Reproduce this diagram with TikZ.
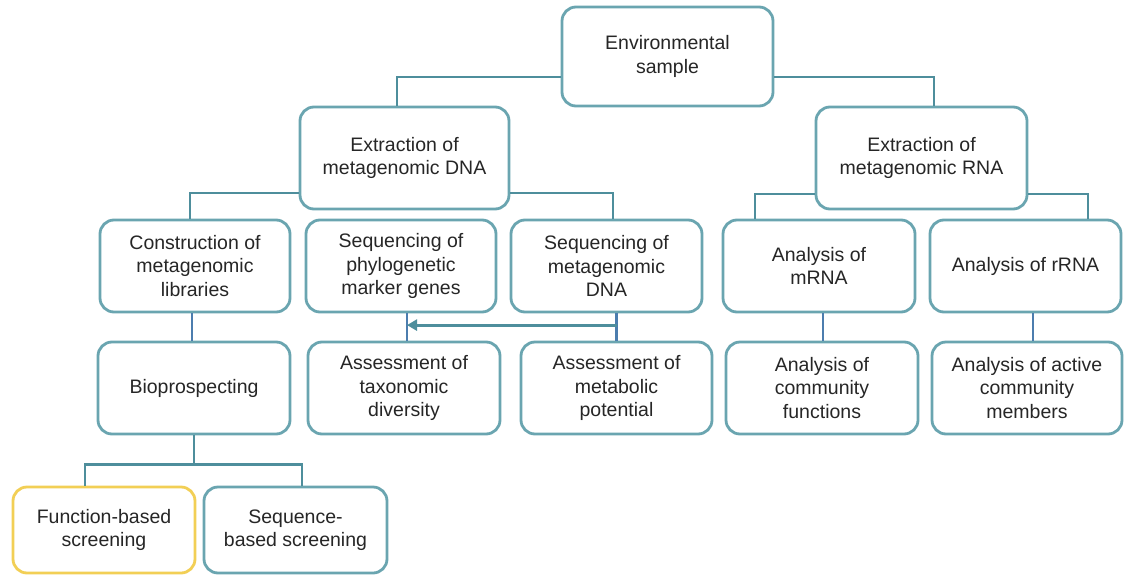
\documentclass[tikz,border=0pt]{standalone}
\usepackage{fontspec}
\setmainfont{Liberation Sans}
\usetikzlibrary{arrows.meta,calc}
\definecolor{boxc}{HTML}{6AA5B0}
\definecolor{yelc}{HTML}{F2CF55}
\definecolor{connc}{HTML}{4E8E9C}
\definecolor{vconnc}{HTML}{4C7DAE}
\definecolor{txtc}{HTML}{262626}
\begin{document}
\begin{tikzpicture}[x=1pt,y=1pt,
  box/.style={draw=boxc, line width=2.8pt, rounded corners=14pt, fill=white,
    align=center, text=txtc, inner sep=2pt,
    font=\fontsize{19.5pt}{23.5pt}\selectfont},
  conn/.style={draw=connc, line width=2.8pt},
  vconn/.style={draw=vconnc, line width=2.5pt},
  arr/.style={draw=connc, line width=2.8pt, -{Triangle[length=10pt,width=11pt]}}]
\useasboundingbox[fill=white] (0,0) rectangle (1125,-576);
% row 0
\node[box, minimum width=211pt, minimum height=99pt] (env) at (667.5,-56.5) {Environmental\\sample};
% row 1
\node[box, minimum width=209pt, minimum height=102pt] (dna) at (404.5,-158) {Extraction of\\metagenomic DNA};
\node[box, minimum width=211pt, minimum height=102pt] (rna) at (921.5,-158) {Extraction of\\metagenomic RNA};
% row 2
\node[box, minimum width=190pt, minimum height=92pt] (cons) at (195,-266) {Construction of\\metagenomic\\libraries};
\node[box, minimum width=190pt, minimum height=92pt] (phylo) at (401,-266) {Sequencing of\\phylogenetic\\marker genes};
\node[box, minimum width=191pt, minimum height=92pt] (seqdna) at (606.5,-266) {Sequencing of\\metagenomic\\DNA};
\node[box, minimum width=192pt, minimum height=92pt] (mrna) at (819,-266) {Analysis of\\mRNA};
\node[box, minimum width=191pt, minimum height=92pt] (rrna) at (1025.5,-266) {Analysis of rRNA};
% row 3
\node[box, minimum width=192pt, minimum height=92pt] (bio) at (194,-388) {Bioprospecting};
\node[box, minimum width=192pt, minimum height=92pt] (taxo) at (404,-388) {Assessment of\\taxonomic\\diversity};
\node[box, minimum width=191pt, minimum height=92pt] (metab) at (616.5,-388) {Assessment of\\metabolic\\potential};
\node[box, minimum width=192pt, minimum height=92pt] (comm) at (822,-388) {Analysis of\\community\\functions};
\node[box, minimum width=190pt, minimum height=92pt] (active) at (1027,-388) {Analysis of active\\community\\members};
% row 4
\node[box, draw=yelc, minimum width=182pt, minimum height=86pt] (func) at (104,-530) {Function-based\\screening};
\node[box, minimum width=183pt, minimum height=86pt] (seqscr) at (295.5,-530) {Sequence-\\based screening};
% connectors
\draw[conn] ([yshift=-20.5pt]env.west) -| ([xshift=-7.5pt]dna.north);
\draw[conn] ([yshift=-20.5pt]env.east) -| ([xshift=12.5pt]rna.north);
\draw[conn] ([yshift=-35pt]dna.west) -| ([xshift=-5pt]cons.north);
\draw[conn] ([yshift=-35pt]dna.east) -| ([xshift=6.5pt]seqdna.north);
\draw[conn] ([yshift=-36pt]rna.west) -| ([xshift=-64pt]mrna.north);
\draw[conn] ([yshift=-36pt]rna.east) -| ([xshift=62.5pt]rrna.north);
\draw[vconn] ([xshift=-3pt]cons.south) -- ([xshift=-3pt]cons.south |- bio.north);
\draw[vconn] ([xshift=6pt]phylo.south) coordinate (tx) -- ([xshift=6pt]phylo.south |- taxo.north);
\draw[vconn] (metab.north |- seqdna.south) -- (metab.north);
\coordinate (aj) at ($(metab.north |- seqdna.south)!0.43!(metab.north)$);
\draw[arr] (aj) -- (aj -| tx);
\draw[vconn] ([xshift=4pt]mrna.south) -- ([xshift=4pt]mrna.south |- comm.north);
\draw[vconn] ([xshift=7.5pt]rrna.south) -- ([xshift=7.5pt]rrna.south |- active.north);
\draw[conn] (bio.south) -- ++(0,-29) coordinate (bj);
\draw[conn] ([xshift=-19pt]func.north) |- (bj) -| ([xshift=6.5pt]seqscr.north);
\end{tikzpicture}
\end{document}
